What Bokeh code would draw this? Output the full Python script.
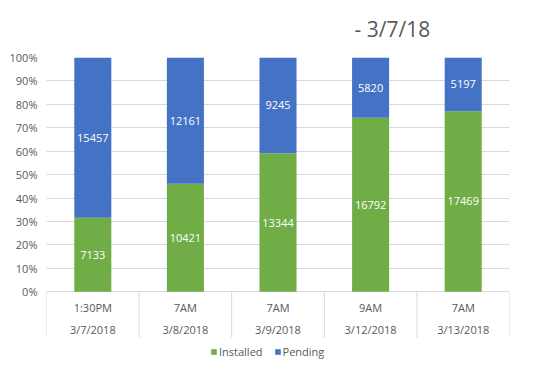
from bokeh.plotting import figure
from bokeh.models import (ColumnDataSource, FactorRange, LabelSet, Legend, NumeralTickFormatter,
                          FixedTicker, Range1d)
from bokeh.core.properties import value
from bokeh.embed import file_html
from bokeh.resources import INLINE

dates = ["3/7/2018", "3/8/2018", "3/9/2018", "3/12/2018", "3/13/2018"]
times = ["1:30PM", "7AM", "7AM", "9AM", "7AM"]
installed = [7133, 10421, 13344, 16792, 17469]
pending = [15457, 12161, 9245, 5820, 5197]
series = ["Installed", "Pending"]
colors = ["#70AD47", "#4472C4"]
title_text = "- 3/7/18"
y_ticks = [0, 0.1, 0.2, 0.3, 0.4, 0.5, 0.6, 0.7, 0.8, 0.9, 1.0]

FONT = "Open Sans"
GRAY = "#595959"
GRID = "#d9d9d9"

# layout (pixels)
W, H = 517, 359
LEFT, RIGHT, TOP, ZERO = 46, 509, 56, 291
PX = ZERO - TOP                     # pixels per 100 %
y_start = -(H - ZERO) / PX          # category table + legend live below 0 %
row_time = -16 / PX
row_date = -38 / PX
sep_end = -46 / PX

factors = list(zip(dates, times))
totals = [a + b for a, b in zip(installed, pending)]
inst_pct = [a / t for a, t in zip(installed, totals)]
pend_pct = [b / t for b, t in zip(pending, totals)]

src = ColumnDataSource(dict(
    x=factors,
    Installed=inst_pct,
    Pending=pend_pct,
    inst_mid=[p / 2 for p in inst_pct],
    pend_mid=[p + q / 2 for p, q in zip(inst_pct, pend_pct)],
    inst_txt=[str(v) for v in installed],
    pend_txt=[str(v) for v in pending],
    time=times,
    date=dates,
    row_t=[row_time] * len(factors),
    row_d=[row_date] * len(factors),
))

edges = list(range(len(factors) + 1))
sep_src = ColumnDataSource(dict(
    x=edges,
    y0=[0.0] * len(edges),
    y1=[sep_end] * len(edges),
))

p = figure(width=W, height=H, output_backend="svg", toolbar_location=None,
           x_range=FactorRange(*factors, factor_padding=0, group_padding=0, range_padding=0),
           y_range=Range1d(y_start, 1),
           x_axis_location=None,
           min_border_left=LEFT, min_border_right=W - RIGHT, min_border_top=TOP,
           min_border_bottom=0)
p.outline_line_color = None
p.border_fill_color = "white"
for g in p.xgrid:
    g.visible = False
    g.grid_line_color = None

renderers = p.vbar_stack(series, x="x", width=0.4, source=src, color=colors, line_color=None)

# title
p.title.text = title_text
p.title.text_font = FONT
p.title.text_font_size = "21px"
p.title.text_font_style = "normal"
p.title.text_color = GRAY
p.title.align = "left"
p.title.vertical_align = "middle"
p.title.offset = 308
p.title.standoff = 27

# y axis
p.yaxis.ticker = FixedTicker(ticks=y_ticks)
p.yaxis.formatter = NumeralTickFormatter(format="0%")
p.yaxis.axis_line_color = None
p.yaxis.major_tick_line_color = None
p.yaxis.minor_tick_line_color = None
p.yaxis.major_tick_out = 0
p.yaxis.major_tick_in = 0
p.yaxis.major_label_standoff = 9
p.yaxis.major_label_text_font = FONT
p.yaxis.major_label_text_font_size = "11px"
p.yaxis.major_label_text_color = GRAY
p.ygrid.grid_line_color = GRID

# category table below the bars
p.segment(x0="x", y0="y0", x1="x", y1="y1", source=sep_src, line_color=GRID, line_width=1)
p.text(x="x", y="row_t", text="time", source=src, text_align="center", text_baseline="middle",
       text_font=value(FONT), text_font_size="11px", text_color=GRAY)
p.text(x="x", y="row_d", text="date", source=src, text_align="center", text_baseline="middle",
       text_font=value(FONT), text_font_size="11px", text_color=GRAY)

# data labels
for ycol, tcol in (("inst_mid", "inst_txt"), ("pend_mid", "pend_txt")):
    p.add_layout(LabelSet(x="x", y=ycol, text=tcol, source=src, text_align="center",
                          text_baseline="middle", text_color="white", text_font=value(FONT),
                          text_font_size="11px"))

legend = Legend(items=[(s, [r]) for s, r in zip(series, renderers)],
                orientation="horizontal", location=(164, 0))
legend.border_line_color = None
legend.background_fill_alpha = 0
legend.padding = 0
legend.margin = 0
legend.spacing = 11
legend.glyph_width = 7
legend.glyph_height = 7
legend.label_height = 11
legend.label_standoff = 2
legend.label_text_font = FONT
legend.label_text_font_size = "11px"
legend.label_text_color = GRAY
legend.label_text_baseline = "middle"
p.add_layout(legend, "center")

open("out.html", "w").write(file_html(p, INLINE))
